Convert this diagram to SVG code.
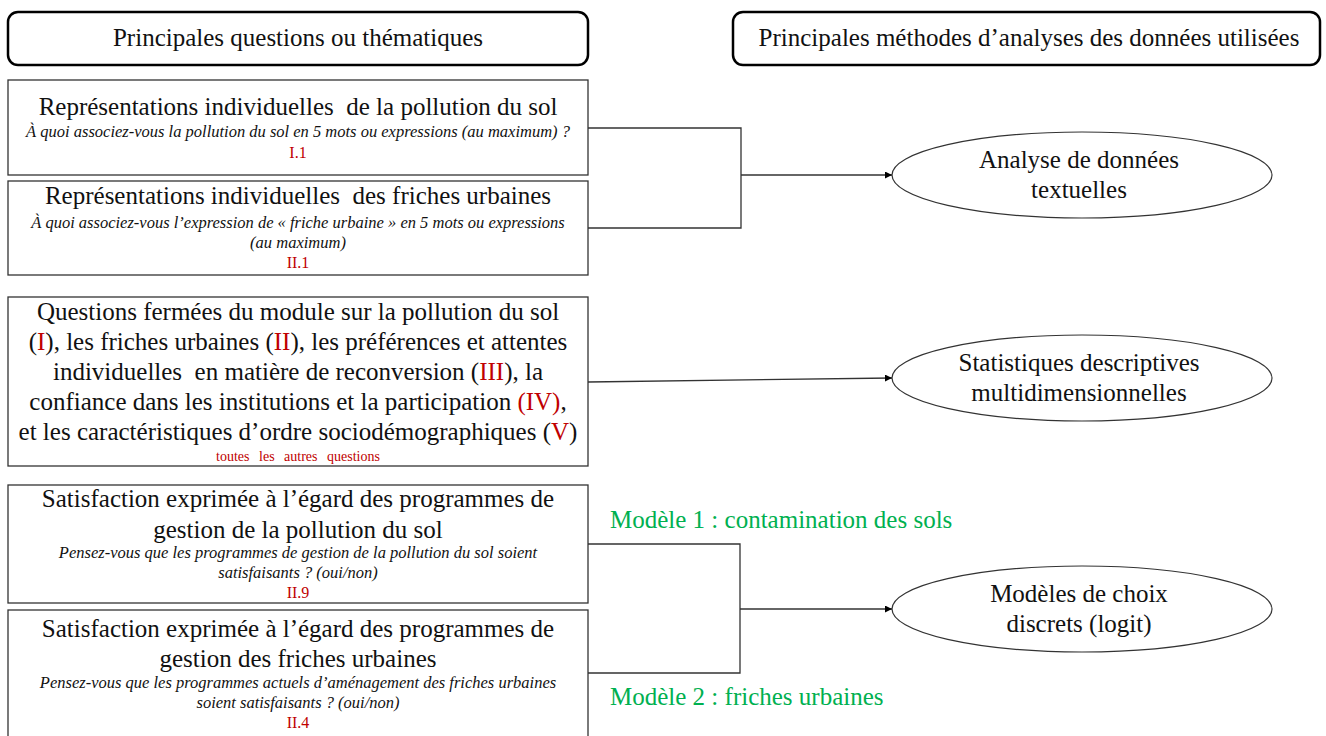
<svg xmlns="http://www.w3.org/2000/svg" width="1326" height="736" viewBox="0 0 1326 736">
<style>
text{font-family:"Liberation Serif","Times New Roman",serif;fill:#111;text-anchor:middle}
.hdr{fill:#fff;stroke:#000;stroke-width:2.5}
.box{fill:#fff;stroke:#333;stroke-width:1.3}
.ell{fill:#fff;stroke:#333;stroke-width:1.2}
.t{font-size:25px}
.it{font-size:16.5px;font-style:italic}
.red{fill:#C00000}
.ref{font-size:16px;fill:#C00000}
.grn{font-size:25px;fill:#00B050;text-anchor:start}
.con{fill:none;stroke:#333;stroke-width:1.3}
</style>
<defs>
<marker id="arr" viewBox="0 0 10 10" refX="10" refY="5" markerWidth="8" markerHeight="7" orient="auto" markerUnits="userSpaceOnUse">
<path d="M0,0 L10,5 L0,10 z" fill="#000"/>
</marker>
</defs>
<rect width="1326" height="736" fill="#fff"/>
<g id="header-left"><rect class="hdr" x="8" y="12" width="580" height="53" rx="10"/><text class="t" x="298" y="46">Principales questions ou thématiques</text></g>
<g id="header-right"><rect class="hdr" x="733" y="12" width="587" height="53" rx="10"/><text class="t" x="1029" y="46">Principales méthodes d’analyses des données utilisées</text></g>

<g id="box-sol">
<rect class="box" x="8" y="80" width="580" height="95"/>
<text class="t" x="298" y="115" xml:space="preserve">Représentations individuelles  de la pollution du sol</text>
<text class="it" x="298" y="137">À quoi associez-vous la pollution du sol en 5 mots ou expressions (au maximum) ?</text>
<text class="ref" x="298" y="158">I.1</text>
</g>
<g id="box-friches">
<rect class="box" x="8" y="181" width="580" height="94"/>
<text class="t" x="298" y="204" xml:space="preserve">Représentations individuelles  des friches urbaines</text>
<text class="it" x="298" y="228">À quoi associez-vous l’expression de « friche urbaine » en 5 mots ou expressions</text>
<text class="it" x="298" y="248">(au maximum)</text>
<text class="ref" x="298" y="268">II.1</text>
</g>
<g id="box-fermees">
<rect class="box" x="8" y="297" width="580" height="169"/>
<text class="t" x="298" y="320">Questions fermées du module sur la pollution du sol</text>
<text class="t" x="298" y="350">(<tspan class="red">I</tspan>), les friches urbaines (<tspan class="red">II</tspan>), les préférences et attentes</text>
<text class="t" x="298" y="380" xml:space="preserve">individuelles  en matière de reconversion (<tspan class="red">III</tspan>), la</text>
<text class="t" x="298" y="410">confiance dans les institutions et la participation <tspan class="red">(IV)</tspan>,</text>
<text class="t" x="298" y="440">et les caractéristiques d’ordre sociodémographiques (<tspan class="red">V</tspan>)</text>
<text class="ref" x="298" y="461" style="font-size:14px;word-spacing:6px">toutes les autres questions</text>
</g>
<g id="box-satisf-sol">
<rect class="box" x="8" y="485" width="580" height="118"/>
<text class="t" x="298" y="507">Satisfaction exprimée à l’égard des programmes de</text>
<text class="t" x="298" y="538">gestion de la pollution du sol</text>
<text class="it" x="298" y="558">Pensez-vous que les programmes de gestion de la pollution du sol soient</text>
<text class="it" x="298" y="578">satisfaisants ? (oui/non)</text>
<text class="ref" x="298" y="598">II.9</text>
</g>
<g id="box-satisf-friches">
<rect class="box" x="8" y="610" width="580" height="130"/>
<text class="t" x="298" y="637">Satisfaction exprimée à l’égard des programmes de</text>
<text class="t" x="298" y="667">gestion des friches urbaines</text>
<text class="it" x="298" y="688">Pensez-vous que les programmes actuels d’aménagement des friches urbaines</text>
<text class="it" x="298" y="708">soient satisfaisants ? (oui/non)</text>
<text class="ref" x="298" y="728">II.4</text>
</g>

<g id="ell-textuelles"><ellipse class="ell" cx="1082" cy="175" rx="190" ry="43"/><text class="t" x="1079" y="168">Analyse de données</text><text class="t" x="1079" y="198">textuelles</text></g>
<g id="ell-stats"><ellipse class="ell" cx="1082" cy="378" rx="190" ry="43"/><text class="t" x="1079" y="371">Statistiques descriptives</text><text class="t" x="1079" y="401">multidimensionnelles</text></g>
<g id="ell-logit"><ellipse class="ell" cx="1082" cy="609" rx="190" ry="43"/><text class="t" x="1079" y="602">Modèles de choix</text><text class="t" x="1079" y="632">discrets (logit)</text></g>

<g id="connectors">
<path class="con" d="M588,128 H741 V228 H588"/>
<path class="con" d="M741,175 H892" marker-end="url(#arr)"/>
<path class="con" d="M588,382 L892,378" marker-end="url(#arr)"/>
<path class="con" d="M588,544 H740 V673 H588"/>
<path class="con" d="M740,609 H892" marker-end="url(#arr)"/>
</g>
<g id="labels">
<text class="grn" x="610" y="528">Modèle 1 : contamination des sols</text>
<text class="grn" x="610" y="705">Modèle 2 : friches urbaines</text>
</g>
</svg>
